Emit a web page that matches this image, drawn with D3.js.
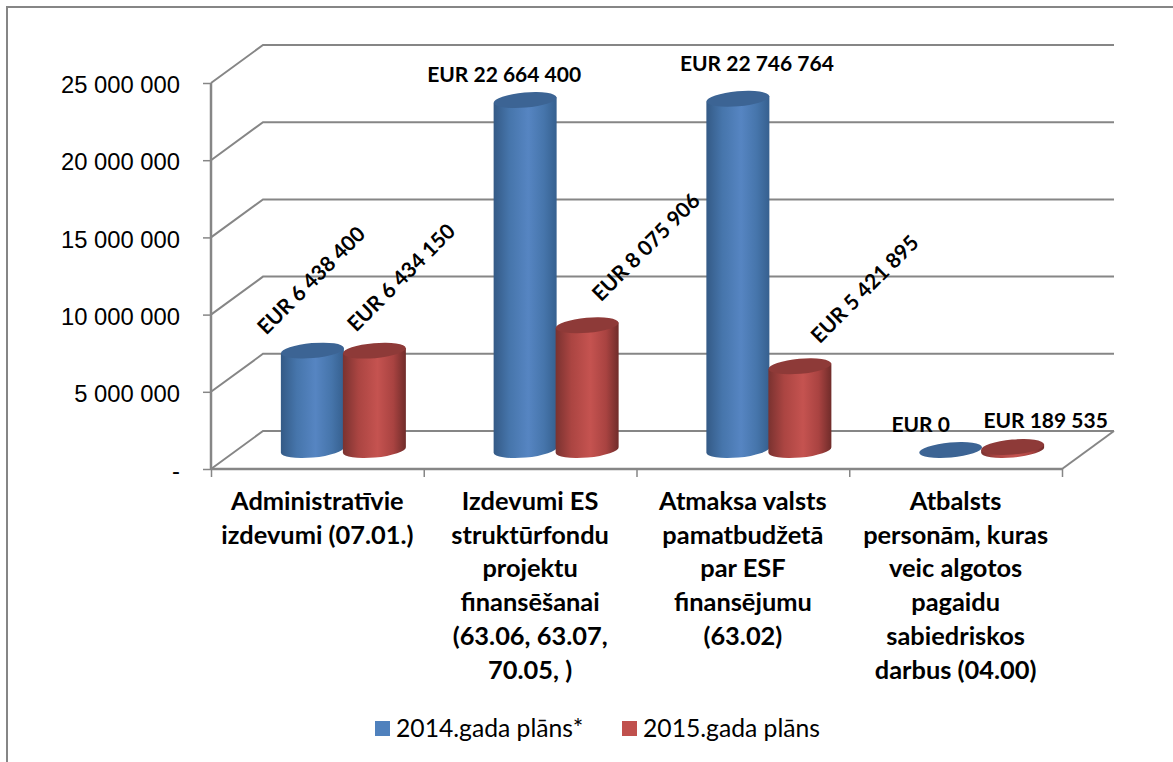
<!DOCTYPE html>
<html>
<head>
<meta charset="utf-8">
<script src="https://cdnjs.cloudflare.com/ajax/libs/d3/7.8.5/d3.min.js"></script>
<style>
  html, body { margin: 0; padding: 0; background: #fff; overflow: hidden; }
  svg { display: block; font-family: Lato, "Open Sans", sans-serif; }
</style>
</head>
<body>
<svg id="chart" width="1173" height="762"></svg>
<script>
var categories = [
  ['Administratīvie', 'izdevumi (07.01.)'],
  ['Izdevumi ES', 'struktūrfondu', 'projektu', 'finansēšanai', '(63.06, 63.07,', '70.05, )'],
  ['Atmaksa valsts', 'pamatbudžetā', 'par ESF', 'finansējumu', '(63.02)'],
  ['Atbalsts', 'personām, kuras', 'veic algotos', 'pagaidu', 'sabiedriskos', 'darbus (04.00)']
];
var seriesNames = ['2014.gada plāns*', '2015.gada plāns'];
var plan2014 = [6438400, 22664400, 22746764, 0];
var plan2015 = [6434150, 8075906, 5421895, 189535];
var yTicks = [0, 5000000, 10000000, 15000000, 20000000, 25000000];

var svg = d3.select('#chart');
var depthX = 52, depthY = 38;
var bottom = 469, top25 = 83, left = 211, right = 1062;
var barRx = 31.5, barRy = 7.5, barTilt = 5;

var y = d3.scaleLinear().domain([0, 25000000]).range([bottom, top25]);
var xEdge = d3.scaleLinear().domain([0, 4]).range([left, right]);
var fmt = function(d) {
  return d === 0 ? '-' : d3.format(',')(d).replace(/,/g, ' ');
};

// outer frame, right and bottom edges run off the picture
svg.append('rect').attr('x', 7).attr('y', 7).attr('width', 1200).attr('height', 800)
  .attr('fill', '#fff').attr('stroke', '#868686').attr('stroke-width', 2);

// gradients for the cylinders
var defs = svg.append('defs');
function gradient(id, stops) {
  var g = defs.append('linearGradient').attr('id', id);
  stops.forEach(function(s) {
    g.append('stop').attr('offset', s[0]).attr('stop-color', s[1]);
  });
}
gradient('blueSide', [[0, '#345a86'], [0.25, '#4675ab'], [0.55, '#5685c2'], [0.8, '#4675ab'], [1, '#36608f']]);
gradient('redSide', [[0, '#7a3230'], [0.25, '#ab4542'], [0.55, '#c55350'], [0.8, '#a94341'], [1, '#702c2a']]);

// walls and floor
var grid = svg.append('g').attr('fill', 'none').attr('stroke', '#868686').attr('stroke-width', 2);
yTicks.forEach(function(t) {
  grid.append('path').attr('d', d3.line()([
    [left, y(t)],
    [left + depthX, y(t) - depthY],
    [right + depthX, y(t) - depthY]
  ]));
});
grid.append('path').attr('d', d3.line()([
  [right, bottom],
  [right + depthX, bottom - depthY]
]));

// axes
var yAxis = svg.append('g').attr('transform', 'translate(' + left + ',0)')
  .call(d3.axisLeft(y).tickValues(yTicks).tickFormat(fmt).tickSize(8).tickPadding(23));
var xAxis = svg.append('g').attr('transform', 'translate(0,' + bottom + ')')
  .call(d3.axisBottom(xEdge).tickValues([0, 1, 2, 3, 4]).tickFormat('').tickSize(8));
[yAxis, xAxis].forEach(function(a) {
  a.selectAll('path').attr('stroke', '#868686').attr('stroke-width', 2.5);
  a.selectAll('line').attr('stroke', '#868686').attr('stroke-width', 1.5);
});
yAxis.selectAll('text').attr('font-size', 23.8).attr('fill', '#000').attr('y', 2);
yAxis.select('path').attr('d', 'M0,' + top25 + 'V' + bottom);
xAxis.select('path').attr('d', 'M' + left + ',0H' + right);

// cylinders, placed half way into the depth of the floor
var baseY = bottom - depthY / 2;
var gap = 62;
var tiltDy = barRx * Math.sin(barTilt * Math.PI / 180);
function cylinder(parent, cx, value, side, topFill) {
  var h = y(0) - y(value);
  var g = parent.append('g');
  if (h > 0) {
    g.append('path')
      .attr('d', 'M' + (cx - barRx) + ',' + (baseY - h + tiltDy) + 'V' + (baseY + tiltDy) +
        'A' + barRx + ',' + barRy + ' ' + (-barTilt) + ' 0 0 ' + (cx + barRx) + ',' + (baseY - tiltDy) +
        'V' + (baseY - h - tiltDy) + 'Z')
      .attr('fill', 'url(#' + side + ')');
  }
  g.append('ellipse').attr('cx', cx).attr('cy', baseY - h)
    .attr('rx', barRx).attr('ry', barRy)
    .attr('transform', 'rotate(' + (-barTilt) + ' ' + cx + ' ' + (baseY - h) + ')')
    .attr('fill', topFill);
}
var bars = svg.append('g');
categories.forEach(function(c, i) {
  var mid = xEdge(i + 0.5) + depthX / 2;
  cylinder(bars, mid - gap / 2, plan2014[i], 'blueSide', '#3c6494');
  cylinder(bars, mid + gap / 2, plan2015[i], 'redSide', '#8e3a38');
});

// data labels: [dx, dy, angle] from the top of each cylinder
var labelPlace2014 = [[-2, -71, -45], [-21, -27, 0], [19, -36, 0], [-30, -27, 0]];
var labelPlace2015 = [[26, -74, -45], [58, -79, -45], [64, -78, -45], [33, -28, 0]];
var eur = function(v) { return 'EUR ' + (v === 0 ? '0' : fmt(v)); };
function dataLabels(values, place, shift) {
  values.forEach(function(v, i) {
    var px = xEdge(i + 0.5) + depthX / 2 + shift + place[i][0];
    var py = baseY - (y(0) - y(v)) + place[i][1];
    svg.append('text')
      .attr('transform', 'translate(' + px + ',' + py + ') rotate(' + place[i][2] + ')')
      .attr('text-anchor', 'middle').attr('dominant-baseline', 'central')
      .attr('font-size', 21).attr('font-weight', 700).attr('fill', '#000')
      .text(eur(v));
  });
}
dataLabels(plan2014, labelPlace2014, -gap / 2);
dataLabels(plan2015, labelPlace2015, gap / 2);

// category labels
var lineGap = 33.7;
categories.forEach(function(lines, i) {
  var t = svg.append('text').attr('text-anchor', 'middle')
    .attr('font-size', 25.4).attr('font-weight', 700).attr('fill', '#000');
  lines.forEach(function(l, j) {
    t.append('tspan').attr('x', xEdge(i + 0.5)).attr('y', 510 + j * lineGap).text(l);
  });
});

// legend
var legendX = [375, 622];
seriesNames.forEach(function(n, i) {
  svg.append('rect').attr('x', legendX[i]).attr('y', 721).attr('width', 15).attr('height', 15)
    .attr('fill', i === 0 ? '#4f81bd' : '#c0504d');
  svg.append('text').attr('x', legendX[i] + 21).attr('y', 737)
    .attr('font-size', 24.7).attr('fill', '#000').text(n);
});
</script>
</body>
</html>
